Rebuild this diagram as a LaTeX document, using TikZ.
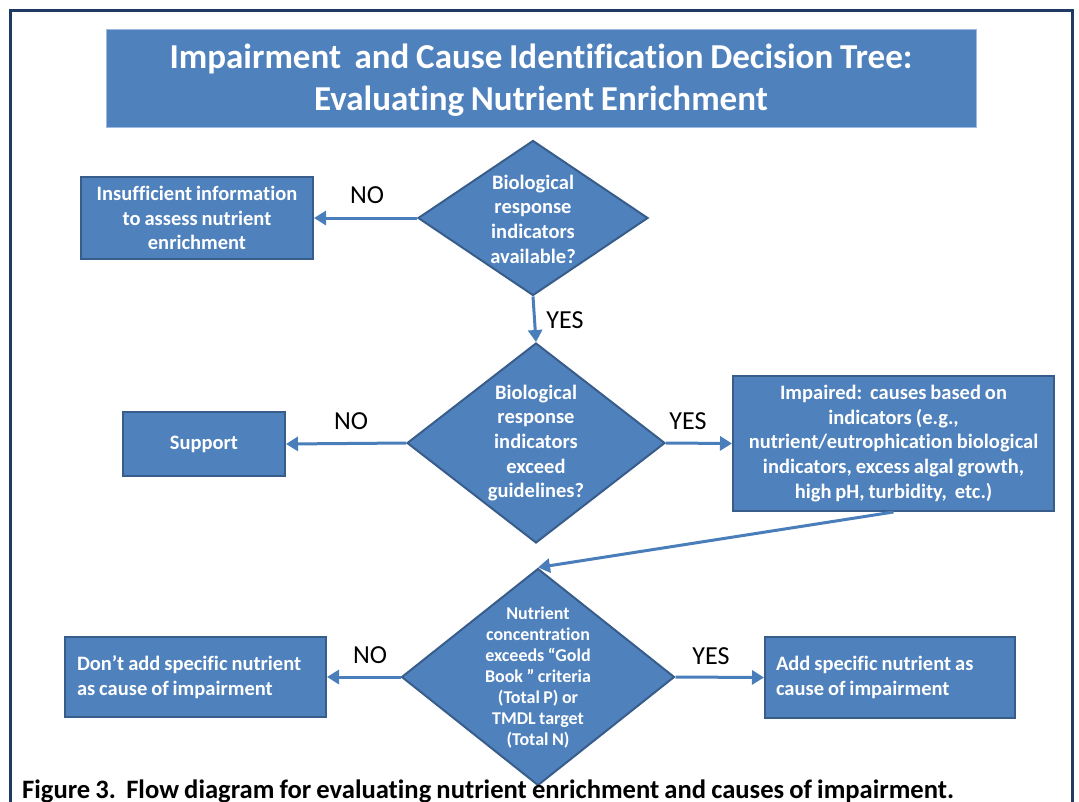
\documentclass[tikz,border=0pt]{standalone}
\usepackage{fontspec}
\setmainfont[Ligatures=NoCommon,WordSpace=0.85]{Carlito}
\usetikzlibrary{shapes.geometric,arrows.meta}
\definecolor{fillb}{HTML}{4F81BD}
\definecolor{lineb}{HTML}{385D8A}
\definecolor{arrowb}{HTML}{4A7EBB}
\definecolor{framec}{HTML}{1F3B63}
\definecolor{titleline}{HTML}{9DBBE0}
\tikzset{
  box/.style={draw=lineb, line width=2pt, fill=fillb, text=white,
    font=\bfseries\fontsize{20.5}{24.8}\selectfont, align=center, inner sep=0pt},
  dia/.style={shape=diamond, draw=lineb, line width=2pt, fill=fillb, inner sep=0pt},
  dtext/.style={text=white, font=\bfseries\fontsize{20.5}{24.6}\selectfont, align=center, inner sep=0pt},
  dtextsmall/.style={text=white, font=\bfseries\fontsize{18}{21}\selectfont, align=center, inner sep=0pt},
  arr/.style={draw=arrowb, line width=3pt, -{Triangle[length=12pt,width=14pt]}},
  lab/.style={text=black, font=\fontsize{26}{30}\selectfont, inner sep=0pt}
}
\begin{document}
\begin{tikzpicture}[x=1pt,y=-1pt]
\useasboundingbox (0,0) rectangle (1079,801);
\clip (0,0) rectangle (1079,801);
\draw[framec, line width=3pt] (10,10) rectangle (1072,840);

% title
\node[draw=titleline, line width=1pt, fill=fillb, minimum width=870pt, minimum height=98pt, inner sep=0pt] (title) at (541,78) {};
\node[text=white, font=\bfseries\fontsize{35}{42}\selectfont, align=center, inner sep=0pt] (titletext) at (541,80)
  {Impairment\ \ and Cause Identification Decision Tree:\\Evaluating Nutrient Enrichment};

% boxes
\node[box, minimum width=232pt, minimum height=82pt] (b1) at (197,218)
  {Insufficient information\\to assess nutrient\\enrichment};
\node[box, minimum width=162pt, minimum height=64pt] (sup) at (204,444) {Support};
\node[box, minimum width=321pt, minimum height=135pt] (imp) at (893.5,443.5)
  {Impaired:\ \ causes based on\\indicators (e.g.,\\nutrient/eutrophication biological\\indicators, excess algal growth,\\high pH, turbidity,\ \ etc.)};
\node[box, minimum width=261pt, minimum height=80pt, text width=237pt, align=flush left] (dont) at (195.5,677)
  {Don’t add specific nutrient\\as cause of impairment};
\node[box, minimum width=250pt, minimum height=81pt, text width=228pt, align=flush left] (add) at (890,677.5)
  {Add specific nutrient as\\cause of impairment};

% diamonds
\node[dia, minimum width=230pt, minimum height=155pt] (d1) at (533,218) {};
\node[dtext] (d1t) at (533,219) {Biological\\response\\indicators\\available?};
\node[dia, minimum width=258pt, minimum height=200pt] (d2) at (536,443) {};
\node[dtext] (d2t) at (536,443) {Biological\\response\\indicators\\exceed\\guidelines?};
\node[dia, minimum width=273pt, minimum height=217pt] (d3) at (538,677) {};
\node[dtextsmall] (d3t) at (538,678) {Nutrient\\concentration\\exceeds “Gold\\Book ” criteria\\(Total P) or\\TMDL target\\(Total N)};

% connectors
\draw[arr] (d1.west) -- (b1.east);
\draw[arr] (d1.south) -- (d2.north);
\draw[arr] (d2.west) -- (sup.east);
\draw[arr] (d2.east) -- (imp.west);
\draw[arr] (imp.south) -- (d3.north);
\draw[arr] (d3.west) -- (dont.east);
\draw[arr] (d3.east) -- (add.west);

% labels
\node[lab] (no1) at (367,195) {NO};
\node[lab] (yes1) at (565,320) {YES};
\node[lab] (no2) at (351,421) {NO};
\node[lab] (yes2) at (688,421) {YES};
\node[lab] (no3) at (370,655) {NO};
\node[lab] (yes3) at (711,656) {YES};

% caption
\node[anchor=base west, text=black, font=\bfseries\fontsize{26.6}{30}\selectfont, inner sep=0pt] (cap) at (22,798)
  {Figure 3.\ \ Flow diagram for evaluating nutrient enrichment and causes of impairment.};
\end{tikzpicture}
\end{document}
